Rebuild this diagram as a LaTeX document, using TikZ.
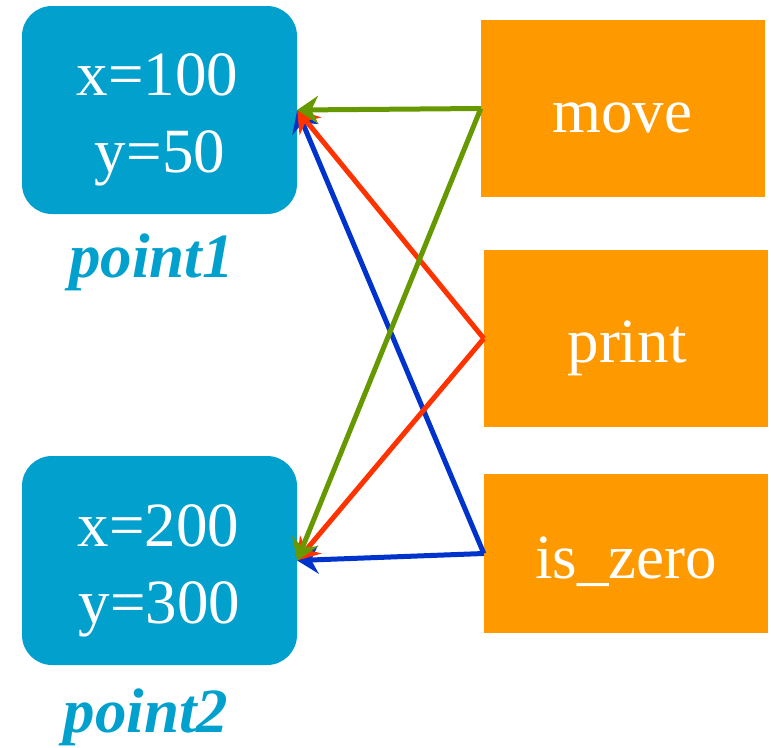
\documentclass[tikz,border=0pt]{standalone}
\usepackage{fontspec}
\setmainfont{Liberation Serif}
\usetikzlibrary{arrows.meta}
\definecolor{boxblue}{RGB}{2,160,205}
\definecolor{boxorange}{RGB}{255,153,0}
\definecolor{arrgreen}{RGB}{102,153,0}
\definecolor{arrred}{RGB}{255,51,0}
\definecolor{arrblue}{RGB}{0,51,204}
\begin{document}
\begin{tikzpicture}[x=1pt,y=-1pt,
  objbox/.style={fill=boxblue, draw=none, rounded corners=30pt, minimum width=275pt, inner sep=0pt},
  methbox/.style={fill=boxorange, draw=none, minimum width=284pt, inner sep=0pt},
  valtext/.style={text=white, font=\fontsize{63}{76}\selectfont, anchor=base, inner sep=0pt},
  objlabel/.style={text=boxblue, font=\fontsize{63}{74}\selectfont\bfseries\itshape, anchor=base, inner sep=0pt},
  link/.style={line width=5pt, -{Stealth[length=21pt,width=28pt,inset=7pt]}}
]
\useasboundingbox (0,0) rectangle (771,747);
% object boxes
\node[objbox, minimum height=208pt] (p1) at (159.5,110) {};
\node[objbox, minimum height=209pt] (p2) at (159.5,560.5) {};
\node[valtext] (p1x) at (157.5,95) {x=100};
\node[valtext] (p1y) at (160,172) {y=50};
\node[valtext] (p2x) at (158.5,546) {x=200};
\node[valtext] (p2y) at (159.5,623) {y=300};
\node[objlabel] (l1) at (151.5,277) {point1};
\node[objlabel] (l2) at (146,732) {point2};
% method boxes
\node[methbox, minimum height=177pt] (mv) at (623,108.5) {};
\node[methbox, minimum height=177pt] (pr) at (626,338.5) {};
\node[methbox, minimum height=159pt] (iz) at (626,553.5) {};
\node[valtext] (mvt) at (622,132) {move};
\node[valtext] (prt) at (627,362) {print};
\node[valtext] (izt) at (626,578) {is\_zero};
% connectors
\draw[link, arrblue] (iz.west) -- (p1.east);
\draw[link, arrblue] (iz.west) -- (p2.east);
\draw[link, arrred] (pr.west) -- (p1.east);
\draw[link, arrred] (pr.west) -- (p2.east);
\draw[link, arrgreen] (mv.west) -- (p1.east);
\draw[link, arrgreen] (mv.west) -- (p2.east);
\end{tikzpicture}
\end{document}
